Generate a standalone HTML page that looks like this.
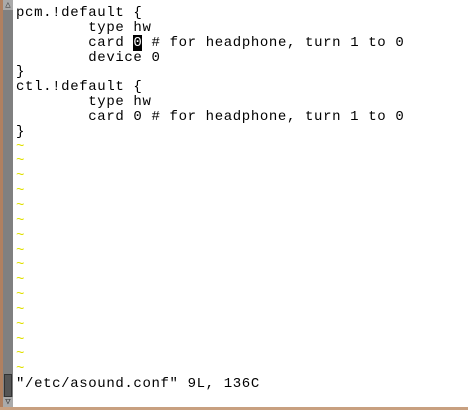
<!DOCTYPE html>
<html><head><style>
body{margin:0;width:468px;height:410px;background:#fff;position:relative;overflow:hidden;font-family:"Liberation Mono",monospace;font-size:14px;}
.lb{position:absolute;left:0;top:0;width:3px;height:410px;background:#b08060}
.bb{position:absolute;left:0;top:407px;width:468px;height:3px;background:#c8a080}
.sb{position:absolute;left:3px;top:0;width:10px;height:407px;background:#808080}
.th{position:absolute;left:4px;top:374px;width:8px;height:23px;background:#555;border:1px solid #333;box-sizing:border-box}
.ar{position:absolute;left:3px;width:10px;height:10px;background:#aaa;font-size:9px;line-height:10px;text-align:center;color:#333}
pre{position:absolute;left:16px;top:6px;margin:0;font:inherit;letter-spacing:0.63px;line-height:14.84px;color:#000}
.t{color:#e0e000}
.c{background:#000;color:#fff}
</style></head><body>
<div class="lb"></div><div class="sb"></div><div class="th"></div>
<div class="ar" style="top:0">△</div><div class="ar" style="top:397px">▽</div>
<div class="bb"></div>
<pre>pcm.!default {
        type hw
        card <span class="c">0</span> # for headphone, turn 1 to 0
        device 0
}
ctl.!default {
        type hw
        card 0 # for headphone, turn 1 to 0
}
<span class="t">~
~
~
~
~
~
~
~
~
~
~
~
~
~
~
~</span>
"/etc/asound.conf" 9L, 136C</pre>
</body></html>
